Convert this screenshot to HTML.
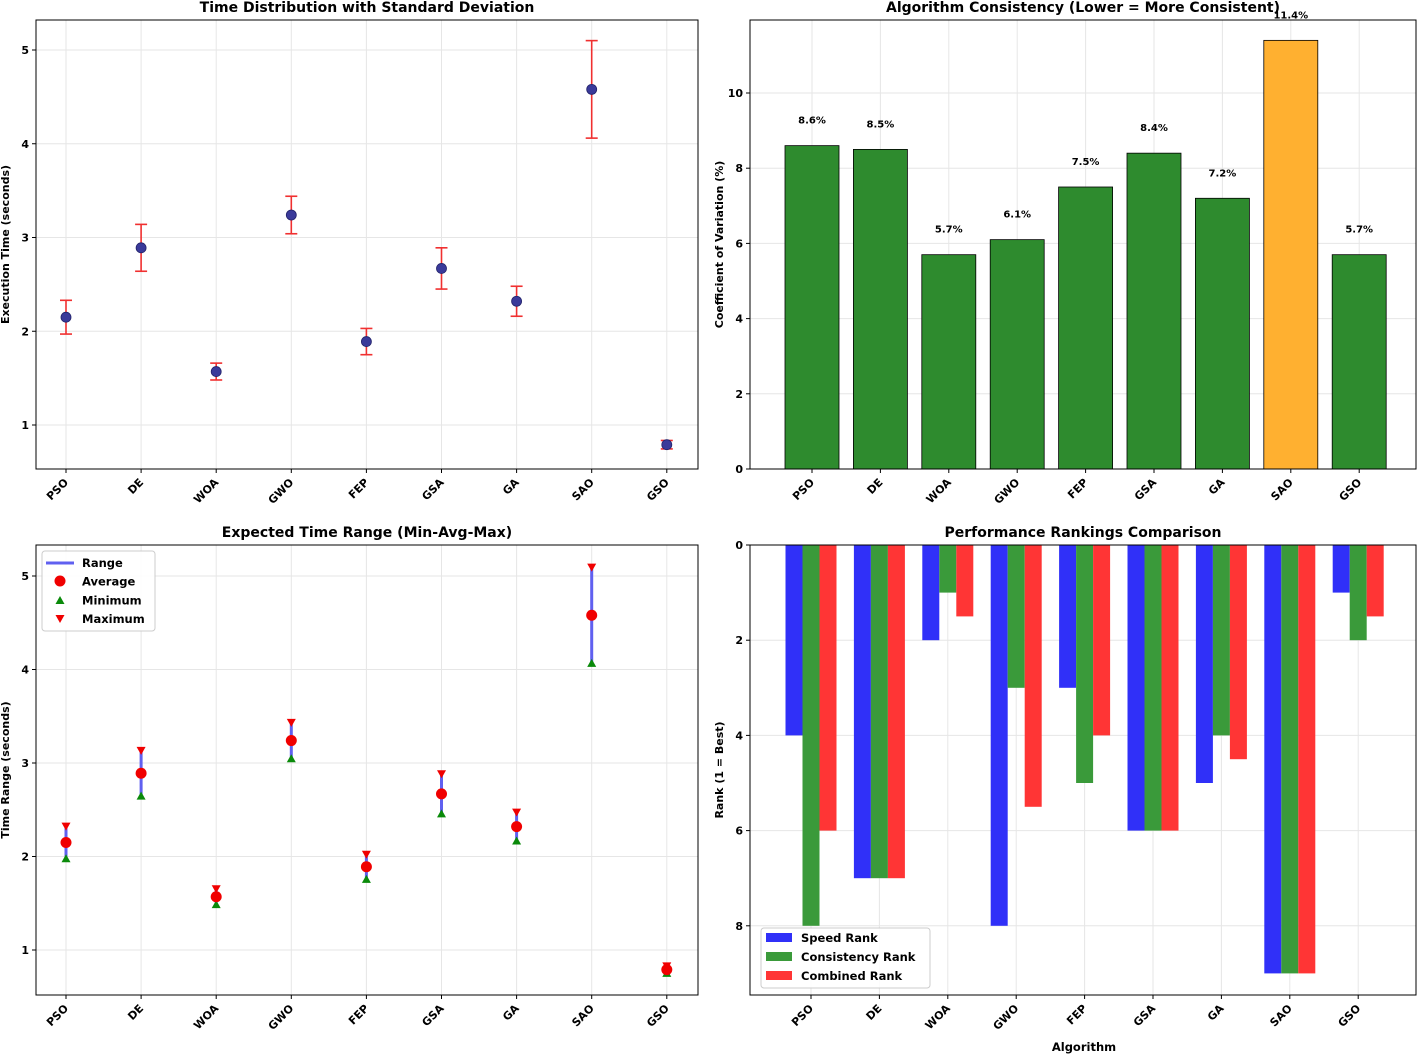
<!DOCTYPE html>
<html><head><meta charset="utf-8"><style>
body{margin:0;background:#fff;}
svg{display:block;font-family:"DejaVu Sans","Liberation Sans",sans-serif;font-weight:bold;}
</style></head><body>
<svg id="s" width="1418" height="1054"></svg>
<script>
const algorithms=["PSO","DE","WOA","GWO","FEP","GSA","GA","SAO","GSO"];
const meanTimes=[2.15,2.89,1.57,3.24,1.89,2.67,2.32,4.58,0.79];
const stdTimes=[0.18,0.25,0.09,0.2,0.14,0.22,0.16,0.52,0.045];
const cvValues=[8.6,8.5,5.7,6.1,7.5,8.4,7.2,11.4,5.7];
const speedRank=[4,7,2,8,3,6,5,9,1];
const consistencyRank=[8,7,1,3,5,6,4,9,2];
const combinedRank=[6,7,1.5,5.5,4,6,4.5,9,1.5];
const timeTicks=[1,2,3,4,5];
const cvTicks=[0,2,4,6,8,10];
const rankTicks=[0,2,4,6,8];

const S=document.getElementById('s');const NS="http://www.w3.org/2000/svg";
function el(t,a,txt,p){const e=document.createElementNS(NS,t);for(const k in a)e.setAttribute(k,a[k]);if(txt!=null)e.textContent=txt;(p||S).appendChild(e);return e;}

function axesFrame(x0,x1,y0,y1,yScale,ticks,xs,name,title,ylabel){
  const g=el('g',{});
  
  
  ticks.forEach(t=>{const y=yScale(t);
    const gl=el('line',{x1:x0,x2:x1,y1:y,y2:y,stroke:'#e6e6e6','stroke-width':1},null,g);
    
    el('line',{x1:x0-4,x2:x0,y1:y,y2:y,stroke:'#000'},null,g);
    const tl=el('text',{x:x0-7,y:y+4,'text-anchor':'end','font-size':11},String(t),g);
    });
  xs.forEach((x,i)=>{
    el('line',{x1:x,x2:x,y1:y0,y2:y1,stroke:'#e6e6e6'},null,g);
    el('line',{x1:x,x2:x,y1:y1,y2:y1+4,stroke:'#000'},null,g);
    const tl=el('text',{x:x+3,y:y1+14,'text-anchor':'end','font-size':11,transform:`rotate(-45 ${x+3} ${y1+14})`},algorithms[i],g);
    });
  const tt=el('text',{x:(x0+x1)/2,y:y0-8,'text-anchor':'middle','font-size':14},title,g);
  
  const yl=el('text',{x:0,y:0,'text-anchor':'middle','font-size':11,transform:`translate(${x0-27} ${(y0+y1)/2}) rotate(-90)`},ylabel,g);
  
  return g;
}
function border(x0,x1,y0,y1){el('rect',{x:x0,y:y0,width:x1-x0,height:y1-y0,fill:'none',stroke:'#000','stroke-width':1});}

// Panel 1
{const x0=36,x1=698,y0=20,y1=469;
 const ys=v=>425-(v-1)*93.75, xp=i=>66+i*75.1;
 axesFrame(x0,x1,y0,y1,ys,timeTicks,algorithms.map((a,i)=>xp(i)),'std-panel','Time Distribution with Standard Deviation','Execution Time (seconds)');
 meanTimes.forEach((m,i)=>{const x=xp(i),s=stdTimes[i];
  const e=el('g',{});
  el('line',{x1:x,x2:x,y1:ys(m-s),y2:ys(m+s),stroke:'#f03030','stroke-width':1.6},null,e);
  [m-s,m+s].forEach(v=>el('line',{x1:x-6,x2:x+6,y1:ys(v),y2:ys(v),stroke:'#f03030','stroke-width':1.6},null,e));
  const c=el('circle',{cx:x,cy:ys(m),r:5,fill:'#3a3a9a',stroke:'#22226a','stroke-width':0.8});
  });
 border(x0,x1,y0,y1);}

// Panel 2
{const x0=750,x1=1416,y0=20,y1=469;
 const ys=v=>469-v*37.6, xp=i=>812+i*68.4;
 axesFrame(x0,x1,y0,y1,ys,cvTicks,algorithms.map((a,i)=>xp(i)),'cv-panel','Algorithm Consistency (Lower = More Consistent)','Coefficient of Variation (%)');
 const mx=Math.max(...cvValues);
 cvValues.forEach((v,i)=>{const x=xp(i);
  const r=el('rect',{x:x-27,y:ys(v),width:54,height:ys(0)-ys(v),fill:v===mx?'#ffb030':'#2e8b2e',stroke:'#000','stroke-width':0.8});
  
  const t=el('text',{x:x,y:ys(v)-22,'text-anchor':'middle','font-size':10},v.toFixed(1)+'%');
  });
 border(x0,x1,y0,y1);}

// Panel 3
{const x0=36,x1=698,y0=545,y1=995;
 const ys=v=>950-(v-1)*93.5, xp=i=>66+i*75.1;
 axesFrame(x0,x1,y0,y1,ys,timeTicks,algorithms.map((a,i)=>xp(i)),'range-panel','Expected Time Range (Min-Avg-Max)','Time Range (seconds)');
 meanTimes.forEach((m,i)=>{const x=xp(i),lo=m-stdTimes[i],hi=m+stdTimes[i];
  const l=el('line',{x1:x,x2:x,y1:ys(lo),y2:ys(hi),stroke:'#6060f0','stroke-width':3});
  
  const mn=el('path',{d:`M${x} ${ys(lo)-5}l4.5 8h-9z`,fill:'#0a8a0a'});
  
  const mxm=el('path',{d:`M${x} ${ys(hi)+5}l4.5 -8h-9z`,fill:'#f00000'});
  
  const c=el('circle',{cx:x,cy:ys(m),r:5.5,fill:'#f00000'});
  });
 const lg=el('g',{});
 el('rect',{x:42,y:551,width:113,height:80,fill:'#fff','fill-opacity':0.85,stroke:'#ccc',rx:3},null,lg);
 el('line',{x1:46,x2:74,y1:563,y2:563,stroke:'#6060f0','stroke-width':3},null,lg);
 el('circle',{cx:60,cy:581,r:5.5,fill:'#f00000'},null,lg);
 el('path',{d:'M60 596l4.5 8h-9z',fill:'#0a8a0a'},null,lg);
 el('path',{d:'M60 623l4.5 -8h-9z',fill:'#f00000'},null,lg);
 ['Range','Average','Minimum','Maximum'].forEach((t,k)=>el('text',{x:82,y:567+k*18.7,'font-size':11.5},t,lg));
 border(x0,x1,y0,y1);}

// Panel 4
{const x0=750,x1=1416,y0=545,y1=995;
 const ys=v=>545+v*47.6, xp=i=>811+i*68.4;
 axesFrame(x0,x1,y0,y1,ys,rankTicks,algorithms.map((a,i)=>xp(i)),'ranking-panel','Performance Rankings Comparison','Rank (1 = Best)');
 const series=[[speedRank,'#3030f8','speed-bar'],[consistencyRank,'#3a9a3a','consistency-bar'],[combinedRank,'#ff3535','combined-bar']];
 series.forEach(([arr,col,nm],k)=>arr.forEach((v,i)=>{
  const r=el('rect',{x:xp(i)-25.5+k*17,y:ys(0),width:17,height:ys(v)-ys(0),fill:col});
  }));
 const xl=el('text',{x:1084,y:1051,'text-anchor':'middle','font-size':11.5},'Algorithm');
 
 const lg=el('g',{});
 el('rect',{x:761,y:928,width:169,height:60,fill:'#fff','fill-opacity':0.85,stroke:'#ccc',rx:3},null,lg);
 ['Speed Rank','Consistency Rank','Combined Rank'].forEach((t,k)=>{
  el('rect',{x:766,y:933+k*19,width:26,height:9,fill:series[k][1]},null,lg);
  el('text',{x:801,y:942+k*19,'font-size':11.5},t,lg);});
 border(x0,x1,y0,y1);}
</script>
</body></html>
